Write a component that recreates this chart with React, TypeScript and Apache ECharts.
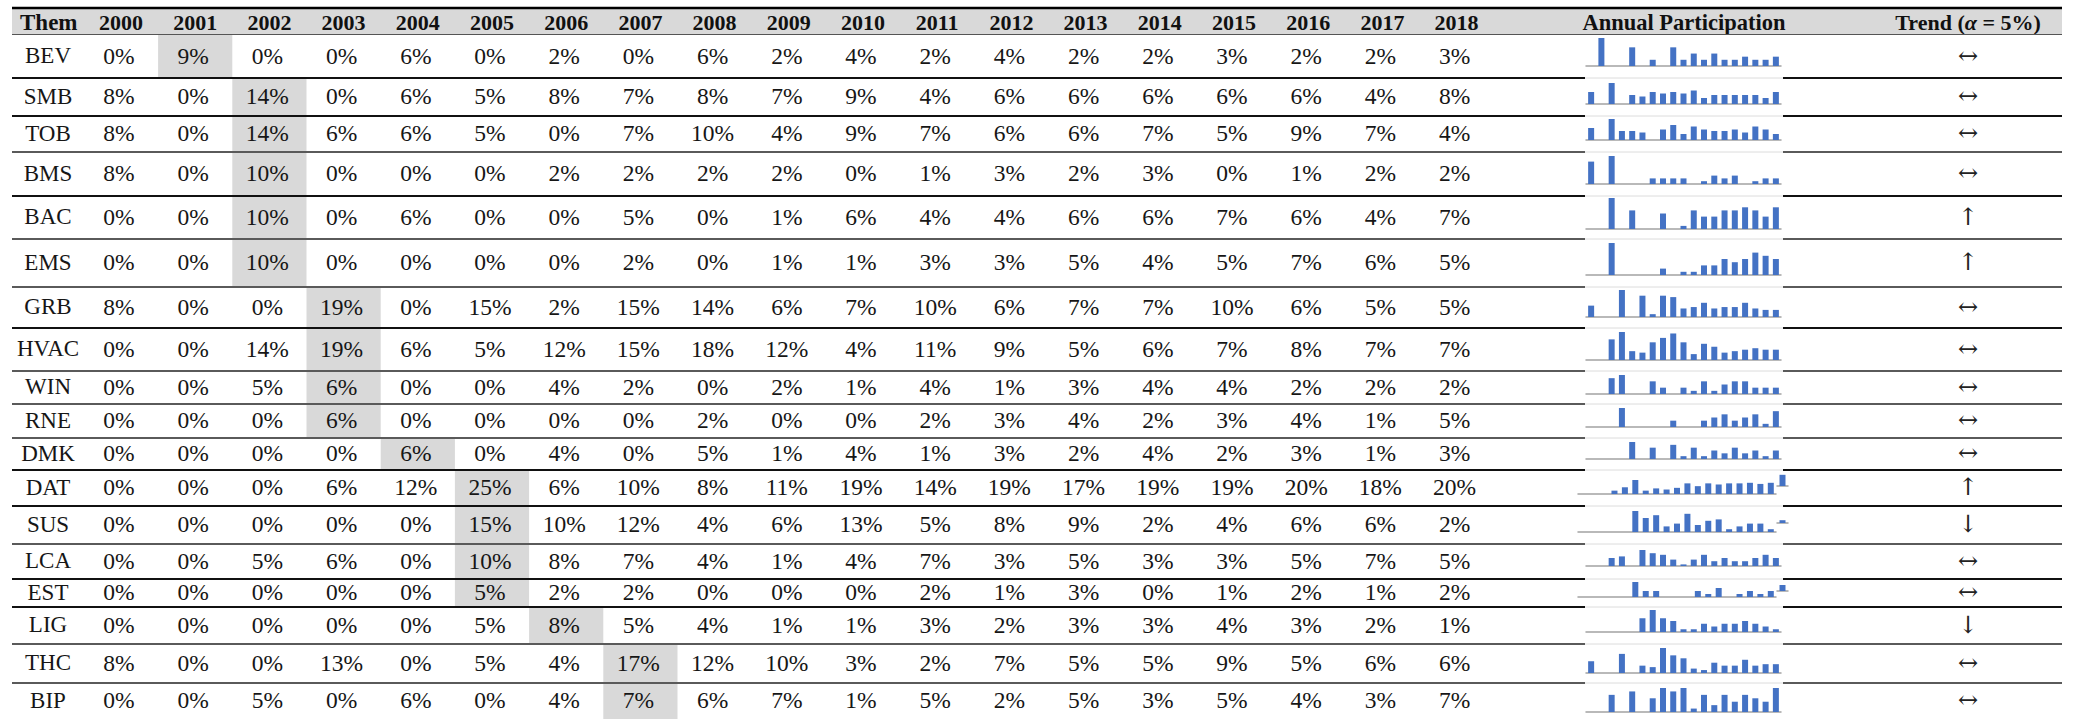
import React, { useEffect, useRef } from "react";
import * as echarts from "echarts";

// ---------------- data ----------------
const years = ["2000", "2001", "2002", "2003", "2004", "2005", "2006", "2007", "2008", "2009",
  "2010", "2011", "2012", "2013", "2014", "2015", "2016", "2017", "2018"];
const themes = ["BEV", "SMB", "TOB", "BMS", "BAC", "EMS", "GRB", "HVAC", "WIN", "RNE",
  "DMK", "DAT", "SUS", "LCA", "EST", "LIG", "THC", "BIP"];

const BEV = [0, 9, 0, 0, 6, 0, 2, 0, 6, 2, 4, 2, 4, 2, 2, 3, 2, 2, 3];
const SMB = [8, 0, 14, 0, 6, 5, 8, 7, 8, 7, 9, 4, 6, 6, 6, 6, 6, 4, 8];
const TOB = [8, 0, 14, 6, 6, 5, 0, 7, 10, 4, 9, 7, 6, 6, 7, 5, 9, 7, 4];
const BMS = [8, 0, 10, 0, 0, 0, 2, 2, 2, 2, 0, 1, 3, 2, 3, 0, 1, 2, 2];
const BAC = [0, 0, 10, 0, 6, 0, 0, 5, 0, 1, 6, 4, 4, 6, 6, 7, 6, 4, 7];
const EMS = [0, 0, 10, 0, 0, 0, 0, 2, 0, 1, 1, 3, 3, 5, 4, 5, 7, 6, 5];
const GRB = [8, 0, 0, 19, 0, 15, 2, 15, 14, 6, 7, 10, 6, 7, 7, 10, 6, 5, 5];
const HVAC = [0, 0, 14, 19, 6, 5, 12, 15, 18, 12, 4, 11, 9, 5, 6, 7, 8, 7, 7];
const WIN = [0, 0, 5, 6, 0, 0, 4, 2, 0, 2, 1, 4, 1, 3, 4, 4, 2, 2, 2];
const RNE = [0, 0, 0, 6, 0, 0, 0, 0, 2, 0, 0, 2, 3, 4, 2, 3, 4, 1, 5];
const DMK = [0, 0, 0, 0, 6, 0, 4, 0, 5, 1, 4, 1, 3, 2, 4, 2, 3, 1, 3];
const DAT = [0, 0, 0, 6, 12, 25, 6, 10, 8, 11, 19, 14, 19, 17, 19, 19, 20, 18, 20];
const SUS = [0, 0, 0, 0, 0, 15, 10, 12, 4, 6, 13, 5, 8, 9, 2, 4, 6, 6, 2];
const LCA = [0, 0, 5, 6, 0, 10, 8, 7, 4, 1, 4, 7, 3, 5, 3, 3, 5, 7, 5];
const EST = [0, 0, 0, 0, 0, 5, 2, 2, 0, 0, 0, 2, 1, 3, 0, 1, 2, 1, 2];
const LIG = [0, 0, 0, 0, 0, 5, 8, 5, 4, 1, 1, 3, 2, 3, 3, 4, 3, 2, 1];
const THC = [8, 0, 0, 13, 0, 5, 4, 17, 12, 10, 3, 2, 7, 5, 5, 9, 5, 6, 6];
const BIP = [0, 0, 5, 0, 6, 0, 4, 7, 6, 7, 1, 5, 2, 5, 3, 5, 4, 3, 7];

const participation = [BEV, SMB, TOB, BMS, BAC, EMS, GRB, HVAC, WIN, RNE, DMK, DAT, SUS, LCA, EST, LIG, THC, BIP];

const highlightYear = ["2001", "2002", "2002", "2002", "2002", "2002", "2003", "2003", "2003", "2003",
  "2004", "2005", "2005", "2005", "2005", "2006", "2007", "2007"];
const trends = ["↔", "↔", "↔", "↔", "↑", "↑", "↔", "↔", "↔", "↔", "↔", "↑", "↓", "↔", "↔", "↓", "↔", "↔"];

const themeHeader = "Them";
const sparkHeader = "Annual Participation";
const trendHeader = "{b|Trend (}{i|α}{b| = 5%)}";

// ---------------- layout ----------------
const W = 2075;
const H = 719;
const COL0 = 121; // px centre of first year column
const COLW = 74.2; // px per column
const u = (px: number) => (px - COL0) / COLW;

const TABLE_L = u(12);
const TABLE_R = u(2062);
const THEME_X = u(48);
const THEME_HDR_X = u(20);
const SPARK_X = u(1684);
const TREND_X = u(1968);
const HEADER_TOP = 8;
const HEADER_BOT = 34.5;
const HEADER_Y = 22;

const rowEdges = [35, 78, 116, 152, 196, 239, 287, 328, 371, 404, 438, 470, 506, 544, 579, 607, 644, 683, 719];
const lineDark = [true, true, false, true, false, false, true, false, false, false, true, true, false, true, true, false, false];
const wideGap = [10, 11, 12, 13, 14];

const sparkTop = [38, 83, 119, 156, 198, 243, 290, 332, 375, 408, 442, 480, 511, 550, 582, 610, 648, 688];
const sparkBase = [66, 104, 140, 184, 229, 275, 317, 360, 394, 427, 459, 494, 532, 566, 597, 632, 673, 712];
const shiftedRows = [11, 12, 14];
const ghostBase: Record<number, number> = { 11: 486, 12: 523, 14: 591 };

const FONT_FAMILY = '"Liberation Serif", "Times New Roman", serif';
const FONT_REG = `23.5px ${FONT_FAMILY}`;
const FONT_LABEL = `23px ${FONT_FAMILY}`;
const FONT_BOLD = `bold 22px ${FONT_FAMILY}`;
const FONT_ARROW = `24px "DejaVu Serif", serif`;
const TXT = "#161616";
const BAR = "#4472C4";

function buildOption(): any {
  const grids: any[] = [{ left: 0, top: 0, width: W, height: H }];
  const xAxes: any[] = [{ type: "value", gridIndex: 0, min: u(0), max: u(W), show: false }];
  const yAxes: any[] = [{ type: "value", gridIndex: 0, min: 0, max: H, inverse: true, show: false }];
  const series: any[] = [];

  // header background
  series.push({
    type: "custom", xAxisIndex: 0, yAxisIndex: 0, z: 1, silent: true, clip: false,
    data: [[TABLE_L, HEADER_TOP]],
    renderItem: (_p: any, api: any) => {
      const a = api.coord([TABLE_L, HEADER_TOP]);
      const b = api.coord([TABLE_R, HEADER_BOT]);
      return { type: "rect", shape: { x: a[0], y: a[1], width: b[0] - a[0], height: b[1] - a[1] }, style: { fill: "#d9d9d9" } };
    },
  });

  // cells
  const cellData: number[][] = [];
  participation.forEach((row, r) => {
    row.forEach((v, c) => cellData.push([c, r, v, years[c] === highlightYear[r] ? 1 : 0]));
  });
  series.push({
    type: "custom", xAxisIndex: 0, yAxisIndex: 0, z: 2, silent: true, clip: false,
    data: cellData,
    renderItem: (_p: any, api: any) => {
      const c = api.value(0), r = api.value(1), v = api.value(2), hl = api.value(3);
      const top = rowEdges[r], bot = rowEdges[r + 1];
      const children: any[] = [];
      if (hl) {
        const a = api.coord([c - 0.5, top]);
        const b = api.coord([c + 0.5, bot]);
        children.push({ type: "rect", shape: { x: a[0], y: a[1], width: b[0] - a[0], height: b[1] - a[1] }, style: { fill: "#d9d9d9" } });
      }
      const p = api.coord([c, (top + bot) / 2 - 1]);
      children.push({
        type: "text", x: p[0] - 2, y: p[1],
        style: { text: v + "%", font: FONT_REG, fill: TXT, align: "center", verticalAlign: "middle" },
      });
      return { type: "group", children };
    },
  });

  // row labels and trend arrows
  series.push({
    type: "custom", xAxisIndex: 0, yAxisIndex: 0, z: 3, silent: true, clip: false,
    data: themes.map((_, r) => [THEME_X, r]),
    renderItem: (params: any, api: any) => {
      const r = api.value(1);
      const y = (rowEdges[r] + rowEdges[r + 1]) / 2 - 1;
      const p = api.coord([THEME_X, y]);
      const q = api.coord([TREND_X, y]);
      return {
        type: "group",
        children: [
          { type: "text", x: p[0], y: p[1], style: { text: themes[params.dataIndex], font: FONT_LABEL, fill: TXT, align: "center", verticalAlign: "middle" } },
          { type: "text", x: q[0], y: q[1], style: { text: trends[params.dataIndex], font: FONT_ARROW, fill: "#222", align: "center", verticalAlign: "middle" } },
        ],
      };
    },
  });

  // header texts
  const headerXs = [THEME_HDR_X, ...years.map((_, i) => i), SPARK_X, TREND_X];
  const headerTexts = [themeHeader, ...years, sparkHeader, trendHeader];
  series.push({
    type: "custom", xAxisIndex: 0, yAxisIndex: 0, z: 3, silent: true, clip: false,
    data: headerXs.map((x) => [x, HEADER_Y]),
    renderItem: (params: any, api: any) => {
      const i = params.dataIndex;
      const p = api.coord([api.value(0), api.value(1)]);
      const style: any = {
        text: headerTexts[i],
        font: i === headerTexts.length - 2 ? `bold 22.5px ${FONT_FAMILY}` : i === 0 ? `bold 23px ${FONT_FAMILY}` : FONT_BOLD,
        fill: "#111", align: i === 0 ? "left" : "center", verticalAlign: "middle",
      };
      if (i === headerTexts.length - 1) {
        style.rich = {
          b: { fontFamily: FONT_FAMILY, fontSize: 22, fontWeight: "bold", fill: "#111" },
          i: { fontFamily: FONT_FAMILY, fontSize: 22, fontWeight: "bold", fontStyle: "italic", fill: "#111" },
        };
      }
      return { type: "text", x: p[0], y: p[1], style };
    },
  });

  // rules
  const rules: number[][] = [[HEADER_TOP, 2]];
  rules.push([HEADER_BOT, 3]);
  for (let s = 0; s < themes.length - 1; s++) rules.push([rowEdges[s + 1], lineDark[s] ? 1 : 0, s]);
  series.push({
    type: "custom", xAxisIndex: 0, yAxisIndex: 0, z: 4, silent: true, clip: false,
    data: rules,
    renderItem: (_p: any, api: any) => {
      const y = api.value(0), kind = api.value(1);
      const a = api.coord([TABLE_L, y]);
      const b = api.coord([TABLE_R, y]);
      if (kind === 2) {
        return { type: "line", shape: { x1: a[0], y1: a[1], x2: b[0], y2: b[1] }, style: { stroke: "#000", lineWidth: 2.6 } };
      }
      if (kind === 3) {
        return { type: "line", shape: { x1: a[0], y1: a[1], x2: b[0], y2: b[1] }, style: { stroke: "#555", lineWidth: 1.2 } };
      }
      const s = api.value(2);
      const gap = wideGap.indexOf(s) >= 0 ? [u(1577), u(1792)] : [u(1585), u(1783)];
      const g1 = api.coord([gap[0], y]);
      const g2 = api.coord([gap[1], y]);
      const stroke = kind === 1 ? "#111" : "#5a5a5a";
      return {
        type: "group",
        children: [
          { type: "line", shape: { x1: a[0], y1: a[1], x2: g1[0], y2: g1[1] }, style: { stroke, lineWidth: 2 } },
          { type: "line", shape: { x1: g1[0], y1: g1[1], x2: g2[0], y2: g2[1] }, style: { stroke: "#dcdcdc", lineWidth: 1 } },
          { type: "line", shape: { x1: g2[0], y1: g2[1], x2: b[0], y2: b[1] }, style: { stroke, lineWidth: 2 } },
        ],
      };
    },
  });

  // sparklines
  participation.forEach((row, r) => {
    const shifted = shiftedRows.indexOf(r) >= 0;
    const gi = grids.length;
    const left = shifted ? 1578 : 1586;
    const width = shifted ? 198 : 195;
    const h = sparkBase[r] - sparkTop[r];
    const max = Math.max(...row);
    grids.push({ left, top: sparkTop[r], width, height: h });
    xAxes.push({
      type: "category", gridIndex: gi, data: years, boundaryGap: true,
      axisLine: { show: true, lineStyle: { color: "#a3a3a3", width: 1.5 } },
      axisTick: { show: false }, axisLabel: { show: false }, splitLine: { show: false },
    });
    yAxes.push({ type: "value", gridIndex: gi, min: 0, max, show: false, splitLine: { show: false } });
    series.push({
      type: "bar", xAxisIndex: gi, yAxisIndex: gi, data: row, barWidth: 6, silent: true,
      itemStyle: { color: BAR },
    });
    if (shifted) {
      const gj = grids.length;
      const gb = ghostBase[r];
      grids.push({ left: 1777, top: gb - h, width: 11, height: h });
      xAxes.push({
        type: "category", gridIndex: gj, data: [years[years.length - 1]], boundaryGap: true,
        axisLine: { show: true, lineStyle: { color: "#a3a3a3", width: 1.5 } },
        axisTick: { show: false }, axisLabel: { show: false }, splitLine: { show: false },
      });
      yAxes.push({ type: "value", gridIndex: gj, min: 0, max, show: false, splitLine: { show: false } });
      series.push({
        type: "bar", xAxisIndex: gj, yAxisIndex: gj, data: [row[row.length - 1]], barWidth: 6, silent: true,
        itemStyle: { color: BAR },
      });
    }
  });

  return {
    animation: false,
    backgroundColor: "#ffffff",
    grid: grids,
    xAxis: xAxes,
    yAxis: yAxes,
    series,
  };
}

export default function App() {
  const ref = useRef<HTMLDivElement>(null);
  useEffect(() => {
    if (!ref.current) return;
    const chart = echarts.init(ref.current, null, { renderer: "svg" });
    chart.setOption(buildOption());
    return () => chart.dispose();
  }, []);
  return (
    <div
      ref={ref}
      style={{ position: "fixed", left: 0, top: 0, width: W, height: H, background: "#fff" }}
    />
  );
}
